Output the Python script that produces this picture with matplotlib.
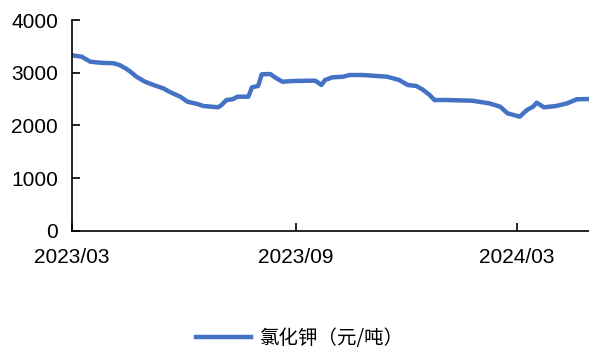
import matplotlib
matplotlib.use('Agg')
import matplotlib.pyplot as plt
import matplotlib.dates as mdates
import pandas as pd

# 氯化钾价格 (元/吨)
dates = ['2023-03-01', '2023-03-09', '2023-03-16', '2023-03-24', '2023-04-04', '2023-04-09',
         '2023-04-14', '2023-04-18', '2023-04-23', '2023-04-30', '2023-05-07', '2023-05-15',
         '2023-05-20', '2023-05-29', '2023-06-04', '2023-06-12', '2023-06-17', '2023-06-24',
         '2023-06-29', '2023-07-02', '2023-07-06', '2023-07-11', '2023-07-15', '2023-07-24',
         '2023-07-27', '2023-08-01', '2023-08-04', '2023-08-11', '2023-08-16', '2023-08-21',
         '2023-08-30', '2023-09-17', '2023-09-22', '2023-09-25', '2023-10-01', '2023-10-10',
         '2023-10-15', '2023-10-26', '2023-11-15', '2023-11-25', '2023-12-02', '2023-12-09',
         '2023-12-14', '2023-12-20', '2023-12-24', '2024-01-03', '2024-01-24', '2024-02-07',
         '2024-02-16', '2024-02-22', '2024-03-03', '2024-03-09', '2024-03-14', '2024-03-17',
         '2024-03-23', '2024-04-02', '2024-04-11', '2024-04-19', '2024-04-29']
price = [3330, 3305, 3210, 3190, 3180, 3147,
         3085, 3020, 2925, 2830, 2768, 2705,
         2640, 2546, 2451, 2408, 2370, 2356,
         2345, 2389, 2483, 2497, 2546, 2546,
         2724, 2749, 2970, 2976, 2895, 2830,
         2844, 2850, 2768, 2862, 2913, 2925,
         2957, 2957, 2925, 2862, 2768, 2749,
         2686, 2578, 2483, 2483, 2470, 2420,
         2356, 2231, 2167, 2294, 2356, 2432,
         2345, 2370, 2420, 2497, 2502]
xticks = ['2023-03-01', '2023-09-01', '2024-03-01']
yticks = [0, 1000, 2000, 3000, 4000]
label = '氯化钾（元/吨）'

x = pd.to_datetime(dates)

fig = plt.figure(figsize=(5.89, 3.54), dpi=100)
ax = fig.add_axes([0.1222, 0.3475, 0.8778, 0.596])
ax.plot(x, price, color='#4472C4', lw=3.2, label=label)

ax.set_xlim(x[0], x[-1])
ax.set_ylim(0, 4000)
ax.set_xticks(pd.to_datetime(xticks))
ax.xaxis.set_major_formatter(mdates.DateFormatter('%Y/%m'))
ax.set_yticks(yticks)
for s in ['top', 'right']:
    ax.spines[s].set_visible(False)
for s in ['left', 'bottom']:
    ax.spines[s].set_linewidth(1.2)
ax.tick_params(axis='x', direction='in', length=6, width=1.2, pad=12, labelsize=15)
ax.tick_params(axis='y', direction='in', length=6, width=1.2, pad=10, labelsize=15)
for t in ax.get_xticklabels() + ax.get_yticklabels():
    t.set_fontfamily('Liberation Sans')

fig.legend(loc='lower center', bbox_to_anchor=(0.51, -0.035), frameon=False,
           prop={'family': ['Noto Sans CJK SC', 'DejaVu Sans'], 'size': 14},
           handlelength=2.8, handletextpad=0.5)

fig.savefig('out.png', dpi=100)
